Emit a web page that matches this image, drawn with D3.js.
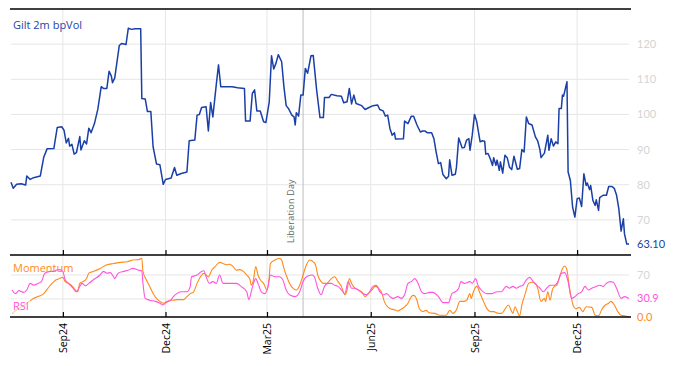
<!DOCTYPE html>
<html><head><meta charset="utf-8">
<script src="https://cdn.jsdelivr.net/npm/d3@7/dist/d3.min.js"></script>
<style>
html,body{margin:0;padding:0;background:#fff;}
svg{display:block;font-family:"Open Sans",Lato,sans-serif;}
</style></head><body>
<svg id="c" width="674" height="366"></svg>
<script>
// ---- data ----
const startDate = "2024-07-17";            // first observation
const lastDay = 548;                        // days covered
const tickDates = ["2024-09-01","2024-12-01","2025-03-01","2025-06-01","2025-09-01","2025-12-01"];
const eventDate = "2025-04-02";
const eventLabel = "Liberation Day";
const volTitle = "Gilt 2m bpVol";
const volTicks = [70,80,90,100,110,120];
const oscTicks = [30,70];
const oscTickLabels = [70];

// Gilt 2m bpVol : [day offset, value]
const volDays = [0,2,5,9,13,14,17,20,26,29,32,38,41,45,47,49,51,52,54,56,58,61,62,65,67,69,71,74,77,80,82,85,87,89,90,92,96,98,102,104,107,110,115,116,119,121,124,126,129,132,135,137,142,145,147,151,156,158,163,165,167,169,173,175,177,179,182,184,186,196,201,207,208,212,214,216,218,221,224,226,229,231,233,235,237,240,242,244,246,249,251,252,253,255,257,259,261,263,266,268,271,274,277,278,282,284,289,293,295,298,300,302,304,306,311,314,317,321,325,327,330,332,334,336,338,340,341,348,349,352,355,357,360,363,365,367,369,373,375,377,379,381,383,386,388,389,391,394,395,397,400,402,404,406,407,409,411,413,416,418,420,421,423,425,427,428,430,431,433,434,436,438,440,442,444,446,449,451,453,455,457,459,462,465,467,469,470,473,476,477,479,481,483,485,486,488,489,490,493,494,496,498,500,502,504,506,508,510,511,513,514,516,518,519,521,522,525,528,530,533,535,537,539,541,543,544,546,548];
const volValues = [80.7,79.0,80.1,80.3,79.9,82.5,81.5,82.0,82.5,87.8,90.2,90.3,96.3,96.5,95.5,91.9,93.2,91.0,91.5,88.7,89.1,93.7,89.9,92.5,91.6,96.1,94.8,97.4,101.5,107.9,107.4,107.4,112.3,110.9,109.0,110.4,119.6,120.2,119.9,124.5,124.2,124.4,124.4,104.5,104.4,100.8,100.8,90.8,85.9,85.7,80.1,81.5,81.9,84.9,82.7,83.2,83.6,92.5,92.7,99.8,100.0,102.0,102.2,95.3,103.4,99.3,108.4,114.1,107.9,107.9,107.6,107.4,98.1,98.1,106.0,107.0,101.0,101.0,97.9,97.7,103.6,116.7,112.9,114.6,117.0,115.0,107.9,102.5,101.7,99.8,99.3,97.0,100.5,99.5,105.5,105.5,113.1,111.7,116.7,116.8,107.0,99.1,99.1,104.8,104.8,105.7,105.3,105.2,103.3,103.6,107.4,103.0,105.5,103.1,102.5,101.4,101.9,102.5,102.7,101.4,101.0,99.5,99.8,96.0,94.1,94.8,93.0,93.1,98.1,97.4,99.5,99.5,97.0,95.0,95.3,95.3,94.8,94.8,93.1,89.3,86.0,86.3,82.9,81.7,82.4,87.1,82.7,83.0,85.0,93.3,90.5,90.6,92.7,93.1,89.8,94.1,100.0,97.9,92.2,92.5,92.4,88.7,88.9,87.4,85.5,87.7,85.5,87.0,84.1,86.5,83.3,88.4,87.7,85.0,84.3,88.1,84.4,84.6,90.0,89.3,99.3,97.4,97.0,93.6,92.5,90.0,87.7,89.0,94.1,89.8,93.1,91.0,92.2,91.7,101.7,101.7,105.5,105.2,109.3,83.6,81.2,73.6,70.8,76.0,76.2,73.8,83.1,79.8,80.5,78.6,79.8,75.5,74.1,75.7,72.7,76.3,77.0,77.0,79.5,79.5,78.9,77.0,73.1,66.8,70.3,66.0,63.1,63.1];

// Momentum : [day offset, value]
const momDays = [1,5,12,20,24,29,32,35,38,40,43,46,48,51,54,57,59,61,64,67,69,73,79,85,91,97,103,108,114,116,117,120,123,126,129,132,135,138,141,144,147,153,156,159,162,165,168,171,173,175,178,181,185,188,191,194,197,200,203,206,209,212,213,215,217,219,221,224,227,229,230,234,238,240,242,244,247,250,253,256,259,262,265,268,270,272,275,277,280,283,287,290,293,296,298,300,302,305,308,311,314,317,320,323,326,329,331,336,340,343,346,349,352,355,357,360,362,365,368,371,376,380,386,389,392,395,398,401,404,407,408,410,413,416,419,422,425,428,432,435,438,441,444,445,447,449,451,453,456,459,462,465,467,470,473,474,476,478,480,482,484,487,489,491,493,495,497,499,501,504,507,510,515,518,521,524,527,530,532,535,538,541,544,548];
const momValues = [6,12,20,31,34,39,46,53,59,62,64,66,59,56,52,45,42,56,59,64,73,76,81,87,89,91,92,95,96,98,76,62,51,39,31,26,23,24,28,28,29,29,34,39,42,56,67,73,70,67,78,84,91,89,87,88,84,78,79,76,70,62,53,62,84,70,62,56,45,67,89,95,98,95,81,70,56,48,45,53,70,87,95,92,87,70,59,56,56,62,67,59,51,37,45,64,56,48,45,42,34,39,45,51,48,39,26,14,12,10,13,17,23,34,36,28,14,9,11,7,6,3,3,11,6,12,26,26,28,39,31,42,51,39,26,14,9,9,6,6,13,20,9,6,17,9,2,20,39,56,58,56,48,26,31,26,42,28,45,51,53,70,81,85,78,51,31,17,14,16,9,17,16,3,2,13,20,23,26,20,9,3,2,0.0];

// RSI : [day offset, value]
const rsiDays = [1,4,7,11,14,17,20,24,27,30,35,38,40,43,46,48,51,55,58,61,63,66,69,73,79,82,85,88,91,92,95,100,104,108,113,116,117,119,123,128,132,135,138,141,144,147,151,156,159,160,165,169,171,173,176,179,182,185,188,194,200,204,209,211,213,215,217,219,222,225,228,230,234,238,241,244,247,252,256,259,262,267,269,272,275,278,281,284,287,290,293,296,299,302,305,308,312,315,318,321,324,327,330,333,336,339,343,346,349,352,355,358,361,364,367,371,374,379,383,388,391,394,397,399,402,407,409,412,414,417,422,426,431,435,439,442,445,448,451,454,457,460,463,466,469,472,475,478,482,485,488,491,494,497,500,503,506,509,512,515,519,522,525,528,531,534,537,541,544,548];
const rsiValues = [45,39,44,41,45,56,53,56,59,73,76,76,78,79,76,62,56,48,42,51,56,52,56,62,70,76,73,74,67,64,73,76,78,81,78,77,56,31,28,26,23,20,26,27,34,39,42,42,51,67,70,76,77,67,56,59,56,70,56,56,56,51,42,29,42,56,64,56,42,39,51,70,67,67,62,45,37,34,42,59,67,70,67,48,37,51,56,56,53,51,45,39,59,48,48,45,39,37,42,51,53,42,37,39,34,31,34,31,37,56,59,64,56,42,39,41,41,34,24,24,39,42,48,59,56,59,56,64,53,45,39,39,42,42,51,48,51,48,51,53,62,66,59,53,48,42,48,53,53,59,73,74,59,31,34,39,42,51,45,48,51,53,51,56,59,58,48,31,34,30.9];

// ---- colours ----
const cVol = "#1a3fa6", cMom = "#ff8a1c", cRsi = "#ff55dd";

// ---- layout ----
const svg = d3.select("#c");
const L = 10, R = 631, T = 9, M = 255, B = 317;
const parse = d3.utcParse("%Y-%m-%d");
const t0 = parse(startDate);
const dayToDate = d => new Date(t0.getTime() + d * 864e5);

const x = d3.scaleUtc().domain([t0, dayToDate(lastDay)]).range([11, 629]);
const yV = d3.scaleLinear().domain([60, 130]).range([M, T]);
const yO = d3.scaleLinear().domain([0, 103.3]).range([B, M]);

const ticks = tickDates.map(parse);
const ev = parse(eventDate);

// gridlines
const g = svg.append("g");
g.selectAll(".vg").data(ticks).join("line")
  .attr("x1", d => x(d)).attr("x2", d => x(d)).attr("y1", T).attr("y2", B)
  .attr("stroke", "#e6e6e6").attr("stroke-width", 1);
g.selectAll(".hg").data(volTicks).join("line")
  .attr("x1", L + 1).attr("x2", R - 2).attr("y1", d => yV(d)).attr("y2", d => yV(d))
  .attr("stroke", "#e6e6e6");
g.selectAll(".og").data(oscTicks).join("line")
  .attr("x1", L + 1).attr("x2", R - 2).attr("y1", d => yO(d)).attr("y2", d => yO(d))
  .attr("stroke", "#e6e6e6");

// event line
svg.append("line").attr("x1", x(ev)).attr("x2", x(ev)).attr("y1", T).attr("y2", B)
  .attr("stroke", "#bdbdbd").attr("stroke-width", 1);
svg.append("text").attr("transform", `translate(${x(ev) - 9},${M - 12}) rotate(-90)`)
  .attr("font-size", 9).attr("fill", "#666").attr("letter-spacing", 0.2).text(eventLabel);

// series
const volData = volDays.map((d, i) => [dayToDate(d), volValues[i]]);
const momData = momDays.map((d, i) => [dayToDate(d), momValues[i]]);
const rsiData = rsiDays.map((d, i) => [dayToDate(d), rsiValues[i]]);

svg.append("path").datum(volData)
  .attr("d", d3.line().x(d => x(d[0])).y(d => yV(d[1])))
  .attr("fill", "none").attr("stroke", cVol).attr("stroke-width", 1.5).attr("stroke-linejoin", "round");
svg.append("path").datum(momData)
  .attr("d", d3.line().curve(d3.curveMonotoneX).x(d => x(d[0])).y(d => yO(d[1])))
  .attr("fill", "none").attr("stroke", cMom).attr("stroke-width", 1.1);
svg.append("path").datum(rsiData)
  .attr("d", d3.line().curve(d3.curveMonotoneX).x(d => x(d[0])).y(d => yO(d[1])))
  .attr("fill", "none").attr("stroke", cRsi).attr("stroke-width", 1.1);

// axes (top border, middle, bottom)
[T, M, B].forEach(yy => svg.append("line").attr("x1", L).attr("x2", R).attr("y1", yy).attr("y2", yy)
  .attr("stroke", "#000").attr("stroke-width", 1.3));

const xAxTop = d3.axisBottom(x).tickValues(ticks).tickSizeInner(-5).tickSizeOuter(0).tickFormat("");
svg.append("g").attr("transform", `translate(0,${M})`).call(xAxTop)
  .call(a => a.select(".domain").remove());
const xAx = d3.axisBottom(x).tickValues(ticks).tickSizeInner(-5).tickSizeOuter(0)
  .tickFormat(d3.utcFormat("%b%y"));
const gx = svg.append("g").attr("transform", `translate(0,${B})`).call(xAx);
gx.select(".domain").remove();
svg.selectAll(".tick line").attr("stroke", "#000").attr("stroke-width", 1.2);
gx.selectAll("text").attr("transform", "rotate(-90)")
  .attr("text-anchor", "end").attr("x", -6).attr("y", 0).attr("dy", "0.35em")
  .attr("font-size", 10.5).attr("font-family", "'Open Sans', sans-serif").attr("fill", "#000");

// right labels
const yAx = d3.axisRight(yV).tickValues(volTicks).tickSize(0).tickPadding(6);
const gy = svg.append("g").attr("transform", `translate(${R},0)`).call(yAx);
gy.select(".domain").remove();
gy.selectAll("text").attr("font-size", 11).attr("font-family", "Lato, sans-serif").attr("fill", "#d4d4d4");

const oAx = d3.axisRight(yO).tickValues(oscTickLabels).tickSize(0).tickPadding(6);
const go = svg.append("g").attr("transform", `translate(${R},0)`).call(oAx);
go.select(".domain").remove();
go.selectAll("text").attr("font-size", 11).attr("font-family", "Lato, sans-serif").attr("fill", "#d4d4d4");

const lastLab = (val, fmt, scale, col) => svg.append("text").attr("x", R + 6).attr("y", scale(val))
  .attr("dy", "0.35em").attr("font-size", 11).attr("font-family", "Lato, sans-serif")
  .attr("fill", col).text(d3.format(fmt)(val));
lastLab(volValues[volValues.length - 1], ".2f", yV, cVol);
lastLab(rsiValues[rsiValues.length - 1], ".1f", yO, cRsi);
lastLab(momValues[momValues.length - 1], ".1f", yO, cMom);

// panel titles
svg.append("text").attr("x", 13).attr("y", 29).attr("font-size", 11).attr("fill", "#2244aa").text(volTitle);
svg.append("rect").attr("x", 12).attr("y", 299).attr("width", 18).attr("height", 14).attr("fill", "#fff").attr("opacity", 0.6);
svg.append("text").attr("x", 13).attr("y", 272).attr("font-size", 11).attr("fill", cMom).text("Momentum");
svg.append("text").attr("x", 13).attr("y", 310).attr("font-size", 11).attr("fill", cRsi).text("RSI");
</script>
</body></html>
